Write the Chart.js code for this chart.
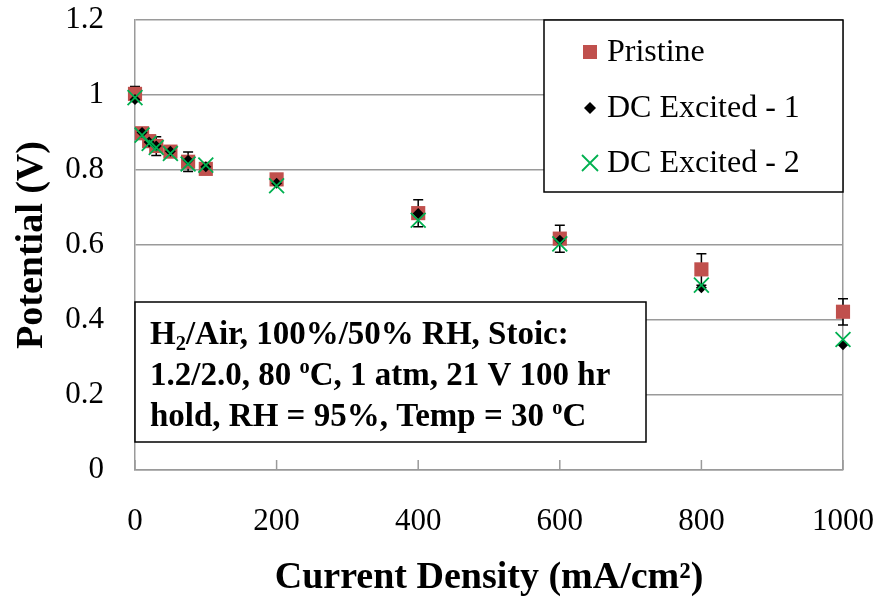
<!DOCTYPE html>
<html>
<head>
<meta charset="utf-8">
<script src="https://cdn.jsdelivr.net/npm/chart.js@4.4.1/dist/chart.umd.min.js"></script>
<style>
  html, body { margin: 0; padding: 0; background: #fff; }
  #wrap { width: 879px; height: 597px; }
</style>
</head>
<body>
<div id="wrap"><canvas id="c" width="879" height="597"></canvas></div>
<script>
// values
const currentDensity = [0, 10, 20, 30, 50, 75, 100, 200, 400, 600, 800, 1000]
const pristine    = [1.003, 0.898, 0.877, 0.864, 0.849, 0.822, 0.803, 0.775, 0.685, 0.617, 0.535, 0.422]
const pristineErr = [0.020, 0.008, 0.008, 0.025, 0.008, 0.026, 0.008, 0.008, 0.036, 0.036, 0.042, 0.035]
const dcExcited1  = [0.988, 0.900, 0.875, 0.864, 0.850, 0.826, 0.809, 0.765, 0.684, 0.613, 0.486, 0.334]
const dcExcited2  = [0.993, 0.893, 0.871, 0.860, 0.844, 0.816, 0.813, 0.758, 0.666, 0.603, 0.493, 0.348]
const seriesNames = ['Pristine', 'DC Excited - 1', 'DC Excited - 2']
const xTickLabels = ['0', '200', '400', '600', '800', '1000']
const yTickLabels = ['0', '0.2', '0.4', '0.6', '0.8', '1', '1.2']
// note box text, [text, 'sub'|'sup'|undefined]
const noteLines = [
  [['H'], ['2', 'sub'], ['/Air, 100%/50% RH, Stoic:']],
  [['1.2/2.0, 80 '], ['o', 'sup'], ['C, 1 atm, 21 V 100 hr']],
  [['hold, RH = 95%, Temp = 30 '], ['o', 'sup'], ['C']]
]

const SERIF = '"Liberation Serif", "Times New Roman", serif'
const GRID = '#9a9a9a'
const RED = '#c0504d'
const GREEN = '#00b050'

function pts(ys){
  return currentDensity.map((x, i) => ({x: x, y: ys[i]}))
}

function drawRich(ctx, segs, x, y, size){
  let cx = x
  segs.forEach(s => {
    let fs = size, dy = 0
    if(s[1] === 'sub'){ fs = size * 0.62; dy = size * 0.17 }
    if(s[1] === 'sup'){ fs = size * 0.62; dy = -size * 0.36 }
    ctx.font = 'bold ' + fs + 'px ' + SERIF
    ctx.fillText(s[0], cx, y + dy)
    cx += ctx.measureText(s[0]).width
  })
}

const extras = {
  id: 'extras',
  beforeDatasetsDraw(chart){
    const {ctx, chartArea} = chart
    const xs = chart.scales.x, ys = chart.scales.y
    ctx.save()
    // inside tick marks on the x axis
    ctx.strokeStyle = GRID
    ctx.lineWidth = 1.5
    xs.ticks.forEach(t => {
      const px = xs.getPixelForValue(t.value)
      ctx.beginPath()
      ctx.moveTo(px, chartArea.bottom)
      ctx.lineTo(px, chartArea.bottom - 10)
      ctx.stroke()
    })
    // error bars of the pristine series
    ctx.strokeStyle = '#000'
    ctx.lineWidth = 1.5
    currentDensity.forEach((c, i) => {
      const px = xs.getPixelForValue(c)
      const y1 = ys.getPixelForValue(pristine[i] + pristineErr[i])
      const y2 = ys.getPixelForValue(pristine[i] - pristineErr[i])
      ctx.beginPath()
      ctx.moveTo(px, y1); ctx.lineTo(px, y2)
      ctx.moveTo(px - 5, y1); ctx.lineTo(px + 5, y1)
      ctx.moveTo(px - 5, y2); ctx.lineTo(px + 5, y2)
      ctx.stroke()
    })
    ctx.restore()
  },
  afterDraw(chart){
    const {ctx, chartArea} = chart
    ctx.save()

    // legend box in the top right corner
    const lw = 299, lh = 172
    const lx = chartArea.right - lw, ly = chartArea.top
    ctx.fillStyle = '#fff'
    ctx.fillRect(lx, ly, lw, lh)
    ctx.strokeStyle = '#000'
    ctx.lineWidth = 1.5
    ctx.strokeRect(lx, ly, lw, lh)
    const rows = [32, 88, 143]
    const mx = lx + 46
    rows.forEach((r, i) => {
      const my = ly + r
      if(i === 0){
        ctx.fillStyle = RED
        ctx.fillRect(mx - 7, my - 7, 14, 14)
      } else if(i === 1){
        ctx.fillStyle = '#000'
        ctx.beginPath()
        ctx.moveTo(mx, my - 6); ctx.lineTo(mx + 6, my); ctx.lineTo(mx, my + 6); ctx.lineTo(mx - 6, my)
        ctx.closePath(); ctx.fill()
      } else {
        ctx.strokeStyle = GREEN
        ctx.lineWidth = 1.8
        ctx.beginPath()
        ctx.moveTo(mx - 8, my - 8); ctx.lineTo(mx + 8, my + 8)
        ctx.moveTo(mx + 8, my - 8); ctx.lineTo(mx - 8, my + 8)
        ctx.stroke()
      }
      ctx.fillStyle = '#000'
      ctx.font = '32px ' + SERIF
      ctx.textBaseline = 'middle'
      ctx.textAlign = 'left'
      ctx.fillText(seriesNames[i], lx + 63, my + 1)
    })

    // note box
    const bx = chartArea.left, by = chartArea.top + 282
    const bw = 511, bh = 140
    ctx.fillStyle = '#fff'
    ctx.fillRect(bx, by, bw, bh)
    ctx.strokeStyle = '#000'
    ctx.lineWidth = 1.5
    ctx.strokeRect(bx, by, bw, bh)
    ctx.fillStyle = '#000'
    ctx.textBaseline = 'alphabetic'
    ctx.textAlign = 'left'
    noteLines.forEach((line, i) => {
      drawRich(ctx, line, bx + 15, by + 42 + i * 41, 33)
    })
    ctx.restore()
  }
}

new Chart(document.getElementById('c').getContext('2d'), {
  type: 'scatter',
  data: {
    datasets: [
      {
        label: seriesNames[0],
        data: pts(pristine),
        pointStyle: 'rect',
        pointRadius: 10,
        backgroundColor: RED,
        borderColor: RED,
        borderWidth: 0,
        order: 3,
        clip: false
      },
      {
        label: seriesNames[1],
        data: pts(dcExcited1),
        pointStyle: 'rectRot',
        pointRadius: 5.5,
        backgroundColor: '#000',
        borderColor: '#000',
        borderWidth: 0,
        order: 2,
        clip: false
      },
      {
        label: seriesNames[2],
        data: pts(dcExcited2),
        pointStyle: 'crossRot',
        pointRadius: 10.5,
        backgroundColor: GREEN,
        borderColor: GREEN,
        borderWidth: 1.8,
        order: 1,
        clip: false
      }
    ]
  },
  options: {
    responsive: false,
    animation: false,
    devicePixelRatio: 1,
    events: [],
    layout: {
      padding: {top: 20, right: 36, bottom: 0, left: 0}
    },
    plugins: {
      legend: {display: false},
      tooltip: {enabled: false}
    },
    scales: {
      x: {
        type: 'linear',
        min: 0,
        max: 1000,
        afterFit: (scale) => {
          scale.height = 127
          scale.paddingLeft = 0
          scale.paddingRight = 0
        },
        ticks: {
          stepSize: 200,
          padding: 33,
          color: '#000',
          font: {family: SERIF, size: 31},
          maxRotation: 0,
          callback: (v, i) => xTickLabels[i]
        },
        grid: {
          drawTicks: false,
          lineWidth: 1.5,
          color: (c) => (c.tick && c.tick.value === 1000) ? GRID : 'rgba(0,0,0,0)'
        },
        border: {display: true, color: GRID, width: 1.5},
        title: {
          display: true,
          text: 'Current Density (mA/cm²)',
          color: '#000',
          font: {family: SERIF, size: 38, weight: 'bold', lineHeight: 1},
          padding: {top: 0, bottom: 0}
        }
      },
      y: {
        type: 'linear',
        min: 0,
        max: 1.2,
        afterFit: (scale) => {
          scale.width = 135
          scale.paddingTop = 0
          scale.paddingBottom = 0
        },
        ticks: {
          stepSize: 0.2,
          padding: 31,
          color: '#000',
          font: {family: SERIF, size: 31},
          callback: (v, i) => yTickLabels[i]
        },
        grid: {
          drawTicks: false,
          lineWidth: 1.5,
          color: GRID
        },
        border: {display: true, color: GRID, width: 1.5},
        title: {
          display: true,
          text: 'Potential (V)',
          color: '#000',
          font: {family: SERIF, size: 38, weight: 'bold'},
          padding: {top: 9, bottom: 0}
        }
      }
    }
  },
  plugins: [extras]
})
</script>
</body>
</html>
